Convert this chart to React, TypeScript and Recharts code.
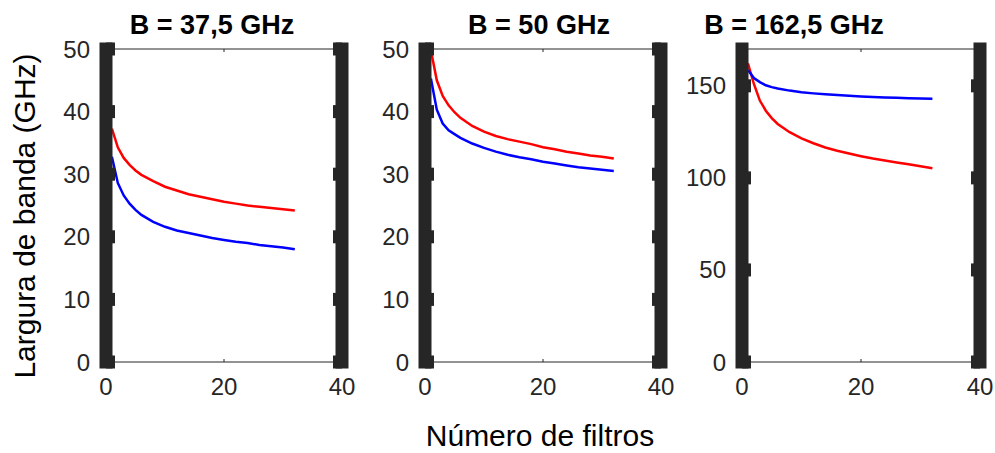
import React from 'react'
import { LineChart, Line, XAxis, YAxis } from 'recharts'

const FONT = '"Liberation Sans", Arial, Helvetica, sans-serif'
const AXIS = '#262626'

const filtros = [1, 2, 3, 4, 5, 6, 8, 10, 12, 14, 16, 18, 20, 22, 24, 26, 28, 30, 32]

const red375 = [37.3, 34.3, 32.6, 31.5, 30.6, 29.9, 28.9, 28.0, 27.4, 26.8, 26.4, 26.0, 25.6, 25.3, 25.0, 24.8, 24.6, 24.4, 24.2]
const blue375 = [32.8, 28.6, 26.6, 25.3, 24.3, 23.5, 22.4, 21.6, 21.0, 20.6, 20.2, 19.8, 19.5, 19.2, 19.0, 18.7, 18.5, 18.3, 18.0]

const red50 = [49.8, 45.0, 42.5, 41.0, 39.9, 39.0, 37.7, 36.8, 36.1, 35.6, 35.2, 34.8, 34.3, 34.0, 33.6, 33.3, 33.0, 32.8, 32.5]
const blue50 = [45.3, 40.3, 38.1, 37.0, 36.4, 35.8, 34.9, 34.2, 33.6, 33.1, 32.7, 32.4, 32.0, 31.7, 31.4, 31.1, 30.9, 30.7, 30.5]

const red1625 = [162.2, 151.0, 142.0, 136.5, 132.5, 129.3, 124.8, 121.5, 118.8, 116.5, 114.7, 113.2, 111.8, 110.5, 109.5, 108.4, 107.4, 106.3, 105.2]
const blue1625 = [158.6, 154.2, 152.0, 150.3, 149.3, 148.5, 147.4, 146.5, 145.9, 145.4, 145.0, 144.6, 144.2, 143.9, 143.7, 143.5, 143.3, 143.1, 143.0]

const xTicks = [0, 20, 40]
const yTicks50 = [0, 10, 20, 30, 40, 50]
const yTicks170 = [0, 50, 100, 150]

const toRows = (red: number[], blue: number[]) =>
  filtros.map((n, i) => ({ n, red: red[i], blue: blue[i] }))

const PLOT_TOP = 49
const PLOT_BOTTOM = 362
const LEFT_W = 70
const RIGHT_W = 20

// right axis keeps its tick marks but shows no labels
const NoLabel = () => <g />

type PanelProps = {
  plotLeft: number
  plotWidth: number
  red: number[]
  blue: number[]
  yMax: number
  yTicks: number[]
}

function Panel({ plotLeft, plotWidth, red, blue, yMax, yTicks }: PanelProps) {
  const data = toRows(red, blue)
  const width = LEFT_W + plotWidth + RIGHT_W
  const thick = { stroke: AXIS, strokeWidth: 13, strokeLinecap: 'square' as const }
  const bump = { stroke: AXIS, strokeWidth: 13 }
  const thin = { stroke: AXIS, strokeWidth: 1 }
  const tickStyle = { fill: AXIS, fontSize: 24, fontFamily: FONT }
  return (
    <div style={{ position: 'absolute', left: plotLeft - LEFT_W, top: 0 }}>
      <LineChart
        width={width}
        height={453}
        data={data}
        margin={{ top: PLOT_TOP - 10, right: 0, bottom: 0, left: 0 }}
      >
        <XAxis
          dataKey="n"
          type="number"
          domain={[0, 40]}
          ticks={xTicks}
          height={453 - PLOT_BOTTOM}
          stroke={AXIS}
          axisLine={thin}
          tickLine={thin}
          tickSize={-3}
          tickMargin={19}
          tick={tickStyle}
          interval={0}
        />
        <XAxis
          xAxisId="top"
          orientation="top"
          dataKey="n"
          type="number"
          domain={[0, 40]}
          ticks={xTicks}
          height={10}
          stroke={AXIS}
          axisLine={thin}
          tickLine={thin}
          tickSize={-3}
          tick={NoLabel}
        />
        <YAxis
          type="number"
          domain={[0, yMax]}
          ticks={yTicks}
          width={LEFT_W}
          stroke={AXIS}
          axisLine={thick}
          tickLine={bump}
          tickSize={-9}
          tickMargin={25}
          tick={tickStyle}
          interval={0}
        />
        <YAxis
          yAxisId="r"
          orientation="right"
          type="number"
          domain={[0, yMax]}
          ticks={yTicks}
          width={RIGHT_W}
          stroke={AXIS}
          axisLine={thick}
          tickLine={bump}
          tickSize={-9}
          tick={NoLabel}
          interval={0}
        />
        {/* invisible series so the right-hand axis gets its ticks */}
        <Line
          yAxisId="r"
          xAxisId="top"
          dataKey="red"
          stroke="transparent"
          strokeWidth={0}
          dot={false}
          activeDot={false}
          legendType="none"
          isAnimationActive={false}
        />
        <Line
          dataKey="red"
          stroke="#ff0000"
          strokeWidth={2.5}
          dot={false}
          type="linear"
          isAnimationActive={false}
        />
        <Line
          dataKey="blue"
          stroke="#0000ff"
          strokeWidth={2.5}
          dot={false}
          type="linear"
          isAnimationActive={false}
        />
      </LineChart>
    </div>
  )
}

const titles = [
  { text: 'B = 37,5 GHz', x: 212 },
  { text: 'B = 50 GHz', x: 539 },
  { text: 'B = 162,5 GHz', x: 794 },
]

export default function App() {
  return (
    <div
      style={{
        position: 'absolute',
        left: 0,
        top: 0,
        width: 995,
        height: 453,
        background: '#fff',
        fontFamily: FONT,
        overflow: 'hidden',
      }}
    >
      <Panel plotLeft={106} plotWidth={236} red={red375} blue={blue375} yMax={50} yTicks={yTicks50} />
      <Panel plotLeft={425} plotWidth={236} red={red50} blue={blue50} yMax={50} yTicks={yTicks50} />
      <Panel plotLeft={742} plotWidth={238} red={red1625} blue={blue1625} yMax={170} yTicks={yTicks170} />
      <svg
        width={995}
        height={453}
        style={{ position: 'absolute', left: 0, top: 0, pointerEvents: 'none' }}
      >
        {titles.map((t) => (
          <text
            key={t.text}
            x={t.x}
            y={34}
            textAnchor="middle"
            fontFamily={FONT}
            fontWeight="bold"
            fontSize={27}
            fill="#000"
          >
            {t.text}
          </text>
        ))}
        <text
          x={35}
          y={216}
          transform="rotate(-90 35 216)"
          textAnchor="middle"
          fontFamily={FONT}
          fontSize={30}
          fill="#000"
        >
          Largura de banda (GHz)
        </text>
        <text x={540} y={446} textAnchor="middle" fontFamily={FONT} fontSize={30} fill="#000">
          Número de filtros
        </text>
      </svg>
    </div>
  )
}
